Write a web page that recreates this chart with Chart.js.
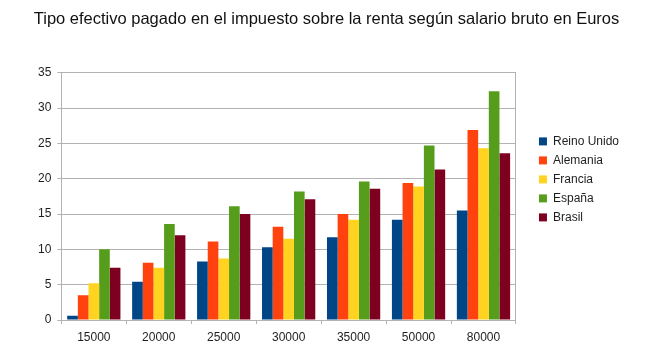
<!DOCTYPE html>
<html>
<head>
<meta charset="utf-8">
<script src="https://cdn.jsdelivr.net/npm/chart.js@4/dist/chart.umd.min.js"></script>
<style>
  html, body { margin: 0; padding: 0; background: #fff; }
  #wrap { width: 654px; height: 348px; }
</style>
</head>
<body>
<div id="wrap"><canvas id="c" width="654" height="348"></canvas></div>
<script>
// datos (tipo efectivo %, por salario bruto)
const salarios = ['15000', '20000', '25000', '30000', '35000', '50000', '80000']
const reinoUnido = [0.6, 5.4, 8.3, 10.3, 11.7, 14.2, 15.5]
const alemania = [3.5, 8.1, 11.1, 13.2, 15.0, 19.4, 26.9]
const francia = [5.2, 7.4, 8.7, 11.5, 14.2, 18.9, 24.3]
const espana = [10.0, 13.6, 16.1, 18.2, 19.6, 24.7, 32.4]
const brasil = [7.4, 12.0, 15.0, 17.1, 18.6, 21.3, 23.6]
const yTicks = [0, 5, 10, 15, 20, 25, 30, 35]

const FONT = "'Liberation Sans', Arial, sans-serif"
const TXT = '#1e1e1e'
const GRID = '#b3b3b3'

const mk = (label, data, color) => ({ label, data, backgroundColor: color, borderWidth: 0, categoryPercentage: 0.82, barPercentage: 1.0 })

new Chart(document.getElementById('c'), {
  type: 'bar',
  data: {
    labels: salarios,
    datasets: [
      mk('Reino Unido', reinoUnido, '#004586'),
      mk('Alemania', alemania, '#ff420e'),
      mk('Francia', francia, '#ffd320'),
      mk('España', espana, '#579d1c'),
      mk('Brasil', brasil, '#7e0021'),
    ],
  },
  options: {
    responsive: false,
    animation: false,
    devicePixelRatio: 1,
    layout: { padding: { left: 24, right: 25, top: 0, bottom: 0 } },
    plugins: {
      tooltip: { enabled: false },
      title: {
        display: true,
        text: 'Tipo efectivo pagado en el impuesto sobre la renta según salario bruto en Euros',
        color: '#111',
        font: { family: FONT, size: 16.5, weight: 'normal' },
        padding: { top: 10, bottom: 43 },
      },
      legend: {
        position: 'right',
        align: 'start',
        // el bloque de la leyenda ocupa todo el alto: el título vacío la baja
        title: { display: true, text: ' ', font: { family: FONT, size: 12 }, padding: { top: 114, bottom: 0 } },
        labels: {
          boxWidth: 8, boxHeight: 8, padding: 7, color: TXT,
          font: { family: FONT, size: 12 },
        },
      },
    },
    scales: {
      x: {
        grid: { display: true, drawOnChartArea: false, drawTicks: true, tickLength: 4, color: GRID },
        border: { display: true, color: GRID },
        ticks: { color: TXT, font: { family: FONT, size: 12 }, padding: 6, maxRotation: 0 },
        afterFit: (ax) => { ax.height = 28 },
      },
      y: {
        min: 0, max: 35,
        afterBuildTicks: (ax) => { ax.ticks = yTicks.map(v => ({ value: v })) },
        grid: { color: GRID, tickLength: 4 },
        border: { display: true, color: GRID },
        ticks: { color: TXT, font: { family: FONT, size: 12 }, padding: 6 },
        afterFit: (ax) => { ax.width += 8 },
      },
      yr: {
        position: 'right',
        min: 0, max: 35,
        grid: { drawOnChartArea: false, drawTicks: false },
        border: { display: true, color: GRID },
        ticks: { display: false },
        afterFit: (ax) => { ax.width = 16 },
      },
    },
  },
})
</script>
</body>
</html>
